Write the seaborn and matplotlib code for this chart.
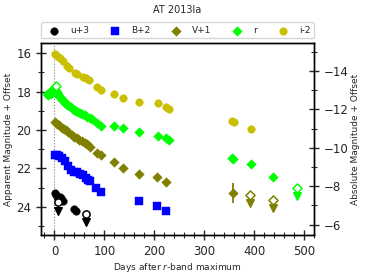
import numpy as np
import pandas as pd
import matplotlib
matplotlib.use("Agg")
import matplotlib.pyplot as plt
import seaborn as sns
from matplotlib.ticker import MultipleLocator

# ---------------- data ----------------
u_days = [2, 4, 7, 11, 14, 17, 40, 44]
u_mags = [23.3, 23.4, 23.6, 23.5, 23.55, 23.7, 24.1, 24.2]
u_lim_days = [8, 63]
u_lim_mags = [23.75, 24.37]

B_days = [1, 5, 9, 15, 21, 28, 33, 39, 45, 52, 57, 63, 68, 71, 84, 94, 169, 206, 223]
B_mags = [21.3, 21.33, 21.37, 21.47, 21.6, 21.88, 22.1, 22.17, 22.2, 22.3, 22.37,
          22.5, 22.6, 22.66, 23.03, 23.24, 23.69, 23.95, 24.2]

V_days = [1, 5, 9, 15, 19, 24, 28, 35, 40, 45, 50, 55, 61, 66, 71, 86, 93, 119, 137,
          169, 206, 223, 357]
V_mags = [19.6, 19.68, 19.75, 19.9, 19.95, 20.02, 20.13, 20.26, 20.34, 20.43, 20.5,
          20.57, 20.67, 20.73, 20.9, 21.21, 21.28, 21.65, 21.97, 22.3, 22.43, 22.69, 23.29]
V_errs = [0.03] * 22 + [0.52]
V_lim_days = [391, 437]
V_lim_mags = [23.38, 23.64]

r_days = [-14, -12, -9, -7, -5, -3, -1, 1, 5, 7, 9, 11, 13, 16, 19, 22, 26, 29, 33,
          37, 40, 44, 48, 52, 56, 61, 65, 71, 75, 86, 93, 119, 137, 169, 207, 223,
          229, 355, 358, 393, 438]
r_mags = [18.1, 18.2, 18.0, 18.1, 17.9, 17.85, 17.8, 17.9, 18.0, 18.1, 18.25, 18.3,
          18.35, 18.45, 18.5, 18.6, 18.68, 18.75, 18.82, 18.88, 18.95, 19.02, 19.07,
          19.13, 19.18, 19.24, 19.3, 19.39, 19.45, 19.62, 19.78, 19.8, 19.9, 20.13,
          20.31, 20.43, 20.52, 21.47, 21.52, 21.78, 22.43]
r_lim_days = [3, 485]
r_lim_mags = [17.69, 23.0]

i_days = [1, 5, 11, 18, 26, 29, 41, 45, 58, 63, 69, 85, 93, 119, 138, 169, 207, 223,
          229, 356, 359, 393]
i_mags = [16.05, 16.13, 16.24, 16.38, 16.68, 16.77, 17.04, 17.08, 17.25, 17.30, 17.39,
          17.77, 17.91, 18.12, 18.34, 18.55, 18.6, 18.8, 18.92, 19.53, 19.6, 19.96]

labels = ["u+3", "B+2", "V+1", "r", "i-2"]
distance_modulus = 30.93

# ---------------- style ----------------
sns.set_theme(style="ticks")
plt.rcParams["font.family"] = ["DejaVu Sans"]

fig = plt.figure(figsize=(3.66, 2.74), dpi=100)
ax = fig.add_axes([0.112, 0.142, 0.746, 0.700])

colors = {"u+3": "black", "B+2": "#0000ff", "V+1": "#808000", "r": "#00ff00", "i-2": "#c8c000"}
markers = {"u+3": "o", "B+2": "s", "V+1": "D", "r": "D", "i-2": "o"}
sizes = {"u+3": 30, "B+2": 26, "V+1": 24, "r": 24, "i-2": 30}

det = {"u+3": (u_days, u_mags), "B+2": (B_days, B_mags), "V+1": (V_days, V_mags),
       "r": (r_days, r_mags), "i-2": (i_days, i_mags)}
lims = {"u+3": (u_lim_days, u_lim_mags), "V+1": (V_lim_days, V_lim_mags),
        "r": (r_lim_days, r_lim_mags)}

ax.axvline(0, color="grey", ls=":", lw=0.8, zorder=0)

for lab in labels:
    d, m = det[lab]
    df = pd.DataFrame({"day": d, "mag": m})
    sns.scatterplot(data=df, x="day", y="mag", ax=ax, marker=markers[lab],
                    color=colors[lab], s=sizes[lab], edgecolor=colors[lab],
                    linewidth=0.3, label=lab, zorder=3)

# V-band error bar on late point
ax.errorbar(V_days[-1:], V_mags[-1:], yerr=V_errs[-1:], fmt="none",
            ecolor=colors["V+1"], elinewidth=1.3, zorder=2)

# upper limits: open marker with downward arrow
for lab, (d, m) in lims.items():
    d = np.asarray(d, float)
    m = np.asarray(m, float)
    ax.vlines(d, m, m + 0.38, color=colors[lab], lw=1.1, zorder=2)
    ax.scatter(d, m + 0.45, marker="v", s=30, color=colors[lab], zorder=3)
    ax.scatter(d, m, marker=markers[lab], s=sizes[lab] * 0.9, facecolor="white",
               edgecolor=colors[lab], linewidth=1.1, zorder=4)

ax.set_xlim(-27, 520)
ax.set_ylim(25.48, 15.48)
ax.xaxis.set_major_locator(MultipleLocator(100))
ax.xaxis.set_minor_locator(MultipleLocator(20))
ax.yaxis.set_major_locator(MultipleLocator(2))
ax.yaxis.set_minor_locator(MultipleLocator(1))
ax.tick_params(which="major", direction="inout", length=7, width=1.0, labelsize=8.5)
ax.tick_params(which="minor", direction="inout", length=4, width=0.8)
ax.set_xlabel("Days after $r$-band maximum", fontsize=6.5, labelpad=2)
ax.set_ylabel("Apparent Magnitude + Offset", fontsize=6.5, labelpad=2)
for sp in ax.spines.values():
    sp.set_linewidth(1.0)
    sp.set_color("black")

ax2 = ax.twinx()
lo, hi = ax.get_ylim()
ax2.set_ylim(lo - distance_modulus, hi - distance_modulus)
ax2.yaxis.set_major_locator(MultipleLocator(2))
ax2.yaxis.set_minor_locator(MultipleLocator(1))
ax2.tick_params(which="major", direction="inout", length=7, width=1.0, labelsize=8.5)
ax2.tick_params(which="minor", direction="inout", length=4, width=0.8)
ax2.set_ylabel("Absolute Magnitude + Offset", fontsize=6.5, labelpad=2)
for sp in ax2.spines.values():
    sp.set_linewidth(1.0)
    sp.set_color("black")

ax.legend(loc="lower left", bbox_to_anchor=(0, 1.025, 1, 0.1), mode="expand",
          ncol=5, fontsize=6.5, frameon=True, handletextpad=0.8,
          borderaxespad=0, markerscale=1.0, fancybox=True, edgecolor="#cccccc")
ax.set_title("AT 2013la", fontsize=7, pad=22)

fig.savefig("out.png", dpi=100)
